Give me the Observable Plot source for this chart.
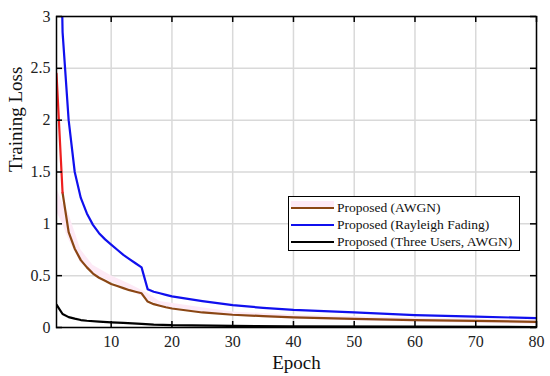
<!DOCTYPE html>
<html><head><meta charset="utf-8">
<script src="https://cdn.jsdelivr.net/npm/d3@7"></script>
<script src="https://cdn.jsdelivr.net/npm/@observablehq/plot@0.6"></script>
<style>
body{margin:0;background:#fff;}
#wrap{position:relative;width:550px;height:376px;font-family:"Liberation Serif","Times New Roman",serif;}
#wrap svg text{font-family:"Liberation Serif","Times New Roman",serif;}
#legend{position:absolute;left:288px;top:196px;width:232px;height:55px;box-sizing:border-box;border:1.5px solid #000;background:#fff;}
.row{position:absolute;left:0;height:16px;width:100%;}
.sw{position:absolute;left:2px;width:43px;top:7px;height:2.2px;}
.lab{position:absolute;left:48px;top:0;font-size:13.5px;line-height:16px;color:#111;white-space:nowrap;}
</style>
</head><body><div id="wrap"></div>
<script>
// AWGN series (epoch, training loss)
const awgnEpoch = [1,2,3,4,5,6,7,8,9,10,11,12,13,14,15,16,17,18,19,20,25,30,35,40,50,60,70,80];
const awgnLoss  = [2.45,1.30,0.92,0.76,0.65,0.58,0.52,0.48,0.45,0.42,0.40,0.38,0.36,0.345,0.33,0.25,0.225,0.21,0.195,0.183,0.145,0.123,0.11,0.098,0.083,0.072,0.063,0.055];
// shaded band around AWGN
const bandEpoch = [1,2,3,5,7,10,13,16,18,25,30,40,60,80];
const bandHi    = [1.35,1.2,1.1,0.75,0.6,0.5,0.42,0.33,0.25,0.19,0.15,0.12,0.09,0.07];
const bandLo    = [1.12,1.0,0.85,0.62,0.52,0.44,0.36,0.27,0.21,0.15,0.11,0.08,0.05,0.03];
// Rayleigh fading series
const rayEpoch = [1,2,3,4,5,6,7,8,9,10,11,12,13,14,15,16,17,18,19,20,25,30,35,40,50,60,70,80];
const rayLoss  = [6.0,2.85,2.0,1.5,1.25,1.1,0.99,0.91,0.85,0.80,0.75,0.70,0.66,0.62,0.58,0.37,0.345,0.33,0.315,0.30,0.255,0.215,0.19,0.17,0.145,0.12,0.105,0.09];
// Three users, AWGN
const threeEpoch = [1,2,3,4,5,6,8,10,12,15,17,20,30,40,60,80];
const threeLoss  = [0.22,0.13,0.10,0.085,0.072,0.065,0.057,0.05,0.045,0.035,0.028,0.022,0.015,0.012,0.008,0.005];
// ticks
const xTicks = [10,20,30,40,50,60,70,80];
const yTicks = [0,0.5,1,1.5,2,2.5,3];
const legendLabels = ["Proposed (AWGN)","Proposed (Rayleigh Fading)","Proposed (Three Users, AWGN)"];
const colors = {red:"#ee1f1f", brown:"#8a4614", blue:"#1010ee", black:"#000000", pink:"#fdeaf6", grid:"#d9d9d9"};

const awgn = awgnEpoch.map((e,i)=>({e, v:awgnLoss[i]}));
const band = bandEpoch.map((e,i)=>({e, lo:bandLo[i], hi:bandHi[i]}));
const ray = rayEpoch.map((e,i)=>({e, v:rayLoss[i]}));
const three = threeEpoch.map((e,i)=>({e, v:threeLoss[i]}));

const W=550,H=376, mL=56, mR=14, mT=16, mB=49;
const innerW = W-mL-mR, innerH = H-mT-mB;
const serif = '"Liberation Serif","Times New Roman",serif';

const chart = Plot.plot({
  width: W, height: H,
  marginLeft: mL, marginRight: mR, marginTop: mT, marginBottom: mB,
  style: {fontFamily: serif, fontSize: "16px", color: "#222", background: "#fff"},
  x: {domain: [1,80]},
  y: {domain: [0,3]},
  marks: [
    Plot.gridX(xTicks, {stroke: colors.grid, strokeOpacity: 1, strokeWidth: 1.5}),
    Plot.gridY(yTicks, {stroke: colors.grid, strokeOpacity: 1, strokeWidth: 1.5}),
    Plot.areaY(band, {x: "e", y1: "lo", y2: "hi", fill: colors.pink, curve: "linear"}),
    Plot.line(three, {x: "e", y: "v", stroke: colors.black, strokeWidth: 2.2, clip: true}),
    Plot.line(ray, {x: "e", y: "v", stroke: colors.blue, strokeWidth: 2.2, clip: true}),
    Plot.line(awgn.slice(1), {x: "e", y: "v", stroke: colors.brown, strokeWidth: 2.2, clip: true}),
    Plot.line(awgn.slice(0,2), {x: "e", y: "v", stroke: colors.red, strokeWidth: 2.2, clip: true}),
    Plot.frame({stroke: "#000", strokeWidth: 1.5}),
    Plot.ruleX(xTicks, {insetTop: innerH-6, stroke: "#000", strokeWidth: 1.5}),
    Plot.ruleX(xTicks, {insetBottom: innerH-6, stroke: "#000", strokeWidth: 1.5}),
    Plot.ruleY(yTicks, {insetRight: innerW-6, stroke: "#000", strokeWidth: 1.5}),
    Plot.ruleY(yTicks, {insetLeft: innerW-6, stroke: "#000", strokeWidth: 1.5}),
    Plot.axisX(xTicks, {tickSize: 0, tickPadding: 8, label: null, fontSize: 16, fontFamily: serif, tickFormat: d => String(d)}),
    Plot.axisY(yTicks, {tickSize: 0, tickPadding: 6, label: null, fontSize: 16, fontFamily: serif, tickFormat: d => String(d)}),
    Plot.text(["Epoch"], {frameAnchor: "bottom", dy: 35, fontSize: 19, fontFamily: serif, lineAnchor: "middle", fill: "#111"}),
    Plot.text(["Training Loss"], {frameAnchor: "left", dx: -41, rotate: -90, fontSize: 19, fontFamily: serif, fill: "#111"})
  ]
});
const wrap = document.getElementById("wrap");
wrap.appendChild(chart);

const lg = document.createElement("div");
lg.id = "legend";
const swColors = [colors.brown, colors.blue, colors.black];
const rowTops = [3, 19.5, 36.5];
legendLabels.forEach((t,i)=>{
  const r = document.createElement("div");
  r.className = "row"; r.style.top = rowTops[i] + "px";
  if (i === 0) {
    const p = document.createElement("div");
    p.style.cssText = `position:absolute;left:2px;width:43px;top:1px;height:7px;background:${colors.pink}`;
    r.appendChild(p);
  }
  const s = document.createElement("div");
  s.className = "sw"; s.style.background = swColors[i];
  const l = document.createElement("div");
  l.className = "lab"; l.textContent = t;
  r.appendChild(s); r.appendChild(l);
  lg.appendChild(r);
});
wrap.appendChild(lg);
</script>
</body></html>
